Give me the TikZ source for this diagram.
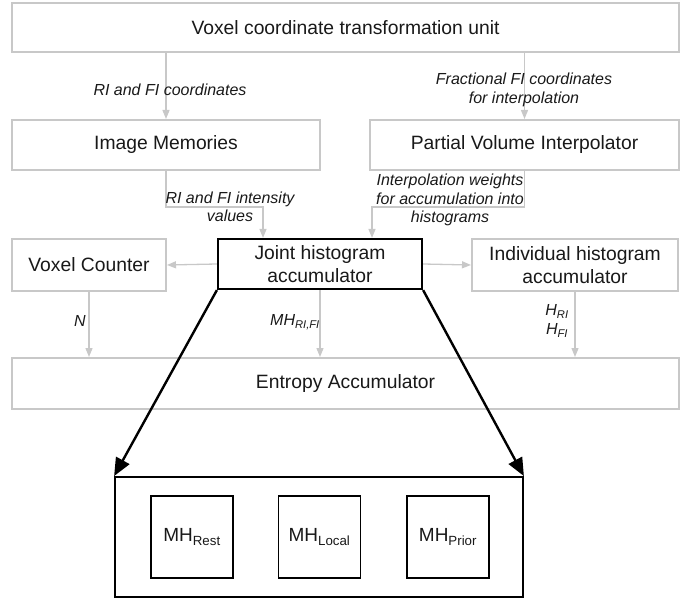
\documentclass[tikz,border=0pt]{standalone}
\usepackage{fontspec}
\setmainfont{Liberation Sans}
\usetikzlibrary{arrows.meta}
\definecolor{boxgray}{RGB}{200,200,200}
\definecolor{txt}{RGB}{25,25,25}
\tikzset{
  gbox/.style={draw=boxgray, line width=2pt, fill=white, inner sep=0pt, align=center, font=\fontsize{19.3}{23}\selectfont, text=txt},
  kbox/.style={draw=black, line width=2.2pt, fill=white, inner sep=0pt, align=center, font=\fontsize{19.3}{23}\selectfont, text=txt},
  ibox/.style={draw=black, line width=1.8pt, fill=white, inner sep=0pt, align=center, font=\fontsize{19}{23}\selectfont, text=txt, minimum width=82pt, minimum height=82pt},
  garrow/.style={draw=boxgray, line width=1.3pt, -{Triangle[length=9pt,width=7pt]}},
  karrow/.style={draw=black, line width=2.4pt, -{Triangle[length=18pt,width=15pt]}},
  lbl/.style={font=\fontsize{16}{18.5}\selectfont\itshape, text=txt, align=center, inner sep=0pt},
}
\begin{document}
\begin{tikzpicture}[x=1pt,y=-1pt]
\useasboundingbox (0,0) rectangle (692,601);
\node[gbox, minimum width=667pt, minimum height=49pt] (top) at (345.5,27.5) {Voxel coordinate transformation unit};
\node[gbox, minimum width=308pt, minimum height=50pt] (im) at (166,145) {Image Memories};
\node[gbox, minimum width=309pt, minimum height=50pt] (pvi) at (524.5,145) {Partial Volume Interpolator};
\node[gbox, minimum width=154pt, minimum height=52pt] (vc) at (89,265) {Voxel Counter};
\node[gbox, minimum width=206pt, minimum height=52pt] (ind) at (575,265) {Individual histogram\\accumulator};
\node[gbox, minimum width=667pt, minimum height=51pt] (ent) at (345.5,383.5) {Entropy Accumulator};
\node[kbox, minimum width=204pt, minimum height=50pt] (joint) at (320,264) {Joint histogram\\accumulator};
\node[kbox, line width=1.8pt, minimum width=408pt, minimum height=120pt] (bot) at (319,537) {};
\node[ibox] (mr) at (192,537) {MH\textsubscript{Rest}};
\node[ibox] (ml) at (319.5,537) {MH\textsubscript{Local}};
\node[ibox] (mp) at (448,537) {MH\textsubscript{Prior}};

\coordinate (h1) at (0,207);
\draw[garrow] (im.north |- top.south) -- (im.north);
\draw[garrow] (pvi.north |- top.south) -- (pvi.north);
\draw[garrow] (im.south) -- (im.south |- h1) -| ([xshift=-57pt]joint.north);
\draw[garrow] (pvi.south) -- (pvi.south |- h1) -| ([xshift=52pt]joint.north);
\draw[garrow] (joint.west) -- (vc.east);
\draw[garrow] (joint.east) -- (ind.west);
\draw[garrow] (vc.south) -- (vc.south |- ent.north);
\draw[garrow] (joint.south) -- (joint.south |- ent.north);
\draw[garrow] (ind.south) -- (ind.south |- ent.north);
\draw[karrow] (joint.south west) -- (bot.north west);
\draw[karrow] (joint.south east) -- (bot.north east);

\node[lbl] (l1) at (170,90) {RI and FI coordinates};
\node[lbl] (l2) at (524,90) {Fractional FI coordinates\\for interpolation};
\node[lbl] (l3) at (230,207) {RI and FI intensity\\values};
\node[lbl] (l4) at (450,200) {Interpolation weights\\for accumulation into\\histograms};
\node[lbl] (l5) at (80,321) {N};
\node[lbl] (l6) at (295,322) {MH\textsubscript{RI,FI}};
\node[lbl] (l7) at (557,321) {H\textsubscript{RI}\\H\textsubscript{FI}};
\end{tikzpicture}
\end{document}
